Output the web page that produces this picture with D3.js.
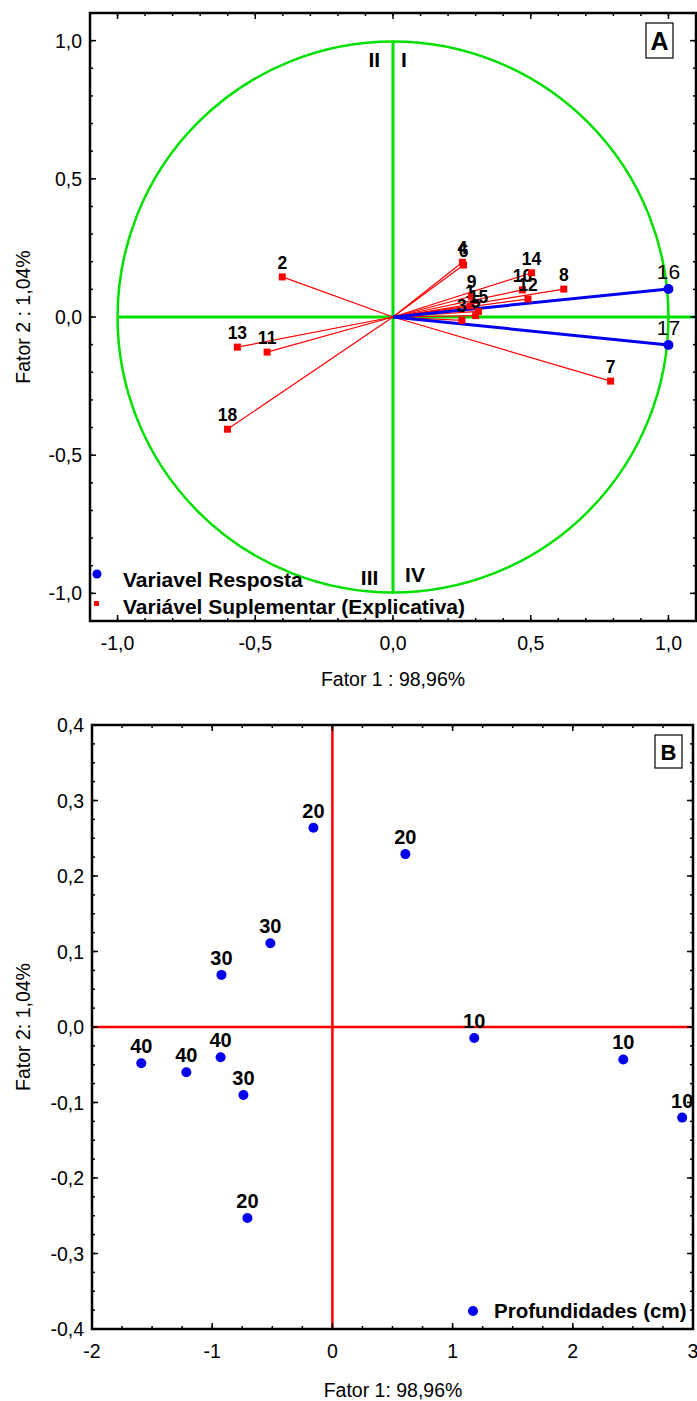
<!DOCTYPE html>
<html><head><meta charset="utf-8">
<script src="https://cdn.jsdelivr.net/npm/d3@7"></script>
<style>body{margin:0;background:#fff}svg{display:block}text{font-family:"Liberation Sans",Arial,sans-serif}</style>
</head><body><svg id="c" width="697" height="1401"></svg>
<script>
// Panel A: variable loadings
const aLabels = ["1","2","3","4","5","6","7","8","9","10","11","12","13","14","15","16","17","18"];
const aX = [0.28,-0.402,0.25,0.252,0.30,0.256,0.790,0.620,0.285,0.470,-0.457,0.490,-0.565,0.503,0.31,1.0,1.0,-0.601];
const aY = [0.04,0.145,-0.012,0.198,0.005,0.188,-0.232,0.101,0.075,0.098,-0.127,0.065,-0.109,0.160,0.02,0.101,-0.101,-0.406];
const aType = ["s","s","s","s","s","s","s","s","s","s","s","s","s","s","s","r","r","s"];
const aTicks = [-1.0,-0.5,0.0,0.5,1.0];
// Panel B: sample scores
const bDepth = ["20","20","30","30","10","10","10","40","40","40","30","20"];
const bX = [-0.158,0.607,-0.516,-0.923,1.18,2.42,2.91,-1.59,-1.215,-0.93,-0.74,-0.707];
const bY = [0.264,0.229,0.111,0.069,-0.0146,-0.043,-0.12,-0.048,-0.060,-0.040,-0.090,-0.253];
const bXTicks = [-2,-1,0,1,2,3];
const bYTicks = [-0.4,-0.3,-0.2,-0.1,0.0,0.1,0.2,0.3,0.4];

const svg = d3.select("#c");
const fmt1 = d => d3.format(".1f")(d).replace(".",",").replace("−","-");
const fmtI = d => String(d);
const TICK_FS = 19.5, TITLE_FS = 19.5;

function frame(g, x, y, xt, yt, xMinor, yMinor, fx, fy){
  const [x0,x1]=x.range(), [y1,y0]=y.range();
  const minorLen=3, majorLen=6;
  const tick=(xx1,yy1,xx2,yy2)=>g.append("line").attr("x1",xx1).attr("y1",yy1).attr("x2",xx2).attr("y2",yy2).attr("stroke","#000").attr("stroke-width",1.5);
  xMinor.forEach(v=>{const px=x(v); tick(px,y1,px,y1-minorLen); tick(px,y0,px,y0+minorLen);});
  yMinor.forEach(v=>{const py=y(v); tick(x0,py,x0+minorLen,py); tick(x1,py,x1-minorLen,py);});
  xt.forEach(v=>{const px=x(v); tick(px,y1,px,y1-majorLen); tick(px,y0,px,y0+majorLen);
    g.append("text").attr("x",px).attr("y",y1+29).attr("text-anchor","middle").attr("font-size",TICK_FS).text(fx(v));});
  yt.forEach(v=>{const py=y(v); tick(x0,py,x0+majorLen,py); tick(x1,py,x1-majorLen,py);
    g.append("text").attr("x",x0-8).attr("y",py+7).attr("text-anchor","end").attr("font-size",TICK_FS).text(fy(v));});
  g.append("rect").attr("x",x0).attr("y",y0).attr("width",x1-x0).attr("height",y1-y0).attr("fill","none").attr("stroke","#000").attr("stroke-width",2.5);
}

// ---------- Panel A ----------
{
  const x = d3.scaleLinear().domain([-1.1,1.1]).range([90,696]);
  const y = d3.scaleLinear().domain([-1.1,1.1]).range([621,13]);
  const g = svg.append("g");
  const r = x(1)-x(0);
  g.append("circle").attr("cx",x(0)).attr("cy",y(0)).attr("r",r).attr("fill","none").attr("stroke","#00e000").attr("stroke-width",2.5);
  g.append("line").attr("x1",x(-1)).attr("x2",x(1.1)).attr("y1",y(0)).attr("y2",y(0)).attr("stroke","#00e000").attr("stroke-width",3);
  g.append("line").attr("x1",x(0)).attr("x2",x(0)).attr("y1",y(1)).attr("y2",y(-1)).attr("stroke","#00e000").attr("stroke-width",3);
  const roman=[["II",-0.068,0.905],["I",0.04,0.905],["III",-0.085,-0.97],["IV",0.08,-0.96]];
  roman.forEach(([t,vx,vy])=>g.append("text").attr("x",x(vx)).attr("y",y(vy)).attr("text-anchor","middle")
     .attr("font-family","Liberation Serif, Times New Roman, serif").attr("font-weight","bold").attr("font-size",21).text(t));
  const idx=d3.range(aLabels.length);
  idx.forEach(i=>{
    const blue=aType[i]==="r";
    g.append("line").attr("x1",x(0)).attr("y1",y(0)).attr("x2",x(aX[i])).attr("y2",y(aY[i]))
      .attr("stroke",blue?"#0000ee":"#ff0000").attr("stroke-width",blue?3:1.2);
  });
  idx.forEach(i=>{
    if(aType[i]==="r"){
      g.append("circle").attr("cx",x(aX[i])).attr("cy",y(aY[i])).attr("r",5).attr("fill","#0000ee");
      g.append("text").attr("x",x(aX[i])).attr("y",y(aY[i])-10).attr("text-anchor","middle").attr("font-size",21).text(aLabels[i]);
    } else {
      g.append("rect").attr("x",x(aX[i])-3.5).attr("y",y(aY[i])-3.5).attr("width",7).attr("height",7).attr("fill","#ff0000");
      g.append("text").attr("x",x(aX[i])).attr("y",y(aY[i])-8).attr("text-anchor","middle").attr("font-weight","bold").attr("font-size",17.5).text(aLabels[i]);
    }
  });
  frame(g,x,y,aTicks,aTicks,d3.range(-10,11).map(d=>d/10),d3.range(-10,11).map(d=>d/10),fmt1,fmt1);
  g.append("rect").attr("x",646).attr("y",23).attr("width",27).attr("height",35).attr("fill","#fff").attr("stroke","#000").attr("stroke-width",1.2);
  g.append("text").attr("x",659.5).attr("y",50).attr("text-anchor","middle").attr("font-weight","bold").attr("font-size",25).text("A");
  g.append("circle").attr("cx",97).attr("cy",574).attr("r",4.5).attr("fill","#0000ee");
  g.append("text").attr("x",123).attr("y",587).attr("font-weight","bold").attr("font-size",21).text("Variavel Resposta");
  g.append("rect").attr("x",94).attr("y",601).attr("width",5).attr("height",5).attr("fill","#ff0000");
  g.append("text").attr("x",123).attr("y",614).attr("font-weight","bold").attr("font-size",21).text("Variável Suplementar (Explicativa)");
  g.append("text").attr("x",393).attr("y",686).attr("text-anchor","middle").attr("font-size",TITLE_FS).text("Fator 1 : 98,96%");
  g.append("text").attr("transform",`translate(30,${y(0)}) rotate(-90)`).attr("text-anchor","middle").attr("font-size",TITLE_FS).text("Fator 2 :  1,04%");
}

// ---------- Panel B ----------
{
  const x = d3.scaleLinear().domain([-2,3]).range([92,693]);
  const y = d3.scaleLinear().domain([-0.4,0.4]).range([1329,725]);
  const g = svg.append("g");
  g.append("line").attr("x1",x(-2)).attr("x2",x(3)).attr("y1",y(0)).attr("y2",y(0)).attr("stroke","#ff0000").attr("stroke-width",2.5);
  g.append("line").attr("x1",x(0)).attr("x2",x(0)).attr("y1",y(0.4)).attr("y2",y(-0.4)).attr("stroke","#ff0000").attr("stroke-width",2.5);
  d3.range(bX.length).forEach(i=>{
    g.append("circle").attr("cx",x(bX[i])).attr("cy",y(bY[i])).attr("r",5).attr("fill","#0000ee");
    g.append("text").attr("x",x(bX[i])).attr("y",y(bY[i])-10).attr("text-anchor","middle").attr("font-weight","bold").attr("font-size",20).text(bDepth[i]);
  });
  frame(g,x,y,bXTicks,bYTicks,d3.range(-8,13).map(d=>d/4),d3.range(-16,17).map(d=>d/40),fmtI,fmt1);
  g.append("rect").attr("x",655).attr("y",735).attr("width",27).attr("height",33).attr("fill","#fff").attr("stroke","#000").attr("stroke-width",1.2);
  g.append("text").attr("x",668.5).attr("y",760).attr("text-anchor","middle").attr("font-weight","bold").attr("font-size",22).text("B");
  g.append("circle").attr("cx",473).attr("cy",1311).attr("r",5).attr("fill","#0000ee");
  g.append("text").attr("x",494).attr("y",1318).attr("font-weight","bold").attr("font-size",20.5).text("Profundidades (cm)");
  g.append("text").attr("x",393).attr("y",1397).attr("text-anchor","middle").attr("font-size",TITLE_FS).text("Fator 1: 98,96%");
  g.append("text").attr("transform",`translate(30,${y(0)}) rotate(-90)`).attr("text-anchor","middle").attr("font-size",TITLE_FS).text("Fator 2:  1,04%");
}
</script></body></html>
